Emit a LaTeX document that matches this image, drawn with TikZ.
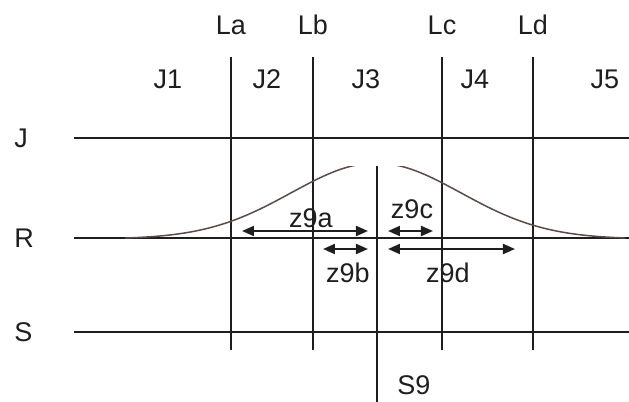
\documentclass[tikz,border=0pt]{standalone}
\usepackage{fontspec}
\setmainfont{Liberation Sans}
\usetikzlibrary{arrows.meta}
\definecolor{znInk}{HTML}{1E1E1E}
\definecolor{znCurve}{HTML}{5A4B4B}
\tikzset{
  zn grid/.style={draw=znInk, line width=0.7pt},
  zn curve/.style={draw=znCurve, line width=0.75pt},
  zn span/.style={draw=znInk, line width=1pt, {Triangle[length=6pt,width=5pt]}-{Triangle[length=6pt,width=5pt]}},
  zn label/.style={font=\fontsize{13.5}{16}\selectfont, text=znInk, inner sep=0pt},
}

\begin{document}
\begin{tikzpicture}[x=0.5pt, y=-0.5pt]
  \useasboundingbox (0,0) rectangle (629,402);

  % Rows J, R, S
  \foreach \row/\y in {J/138,R/238,S/332} {
    \node[zn label, anchor=west] (\row) at (14,\y) {\row};
    \coordinate (\row-start) at (74,\y);
    \coordinate (\row-end) at (629,\y);
    \draw[zn grid] (\row-start) -- (\row-end);
  }

  % Boundary lines La ... Ld
  \foreach \name/\x in {La/231,Lb/313,Lc/442,Ld/533} {
    \node[zn label] (\name) at (\x,25) {\name};
    \coordinate (\name-top) at (\x,57);
    \coordinate (\name-bot) at (\x,350);
    \draw[zn grid] (\name-top) -- (\name-bot);
  }

  % Zones J1 ... J5
  \foreach \zone/\x in {J1/168,J2/267,J3/366,J4/475,J5/605} {
    \node[zn label] (\zone) at (\x,79) {\zone};
  }

  % Centre line S9
  \coordinate (S9-top) at (377,166);
  \coordinate (S9-bot) at (377,402);
  \draw[zn grid] (S9-top) -- (S9-bot);
  \node[zn label] (S9) at (414,385) {S9};

  % Bell curve, cut at its top
  \begin{scope}
    \clip (0,166) rectangle (629,402);
    \draw[zn curve] plot[domain=125:625, samples=120, smooth]
      (\x, {239 - 76*exp(-0.5*((\x-376)/85)^2)});
  \end{scope}

  % Spans
  \coordinate (z9a-l) at (242,231);
  \coordinate (z9a-r) at (368,231);
  \coordinate (z9b-l) at (323,249);
  \coordinate (z9b-r) at (368,249);
  \coordinate (z9c-l) at (388,231);
  \coordinate (z9c-r) at (433,231);
  \coordinate (z9d-l) at (388,249);
  \coordinate (z9d-r) at (515,249);
  \draw[zn span] (z9a-l) -- (z9a-r);
  \draw[zn span] (z9b-l) -- (z9b-r);
  \draw[zn span] (z9c-l) -- (z9c-r);
  \draw[zn span] (z9d-l) -- (z9d-r);
  \node[zn label] (z9a) at (311,218) {z9a};
  \node[zn label] (z9b) at (348,273) {z9b};
  \node[zn label] (z9c) at (412,209) {z9c};
  \node[zn label] (z9d) at (448,273) {z9d};
\end{tikzpicture}
\end{document}
